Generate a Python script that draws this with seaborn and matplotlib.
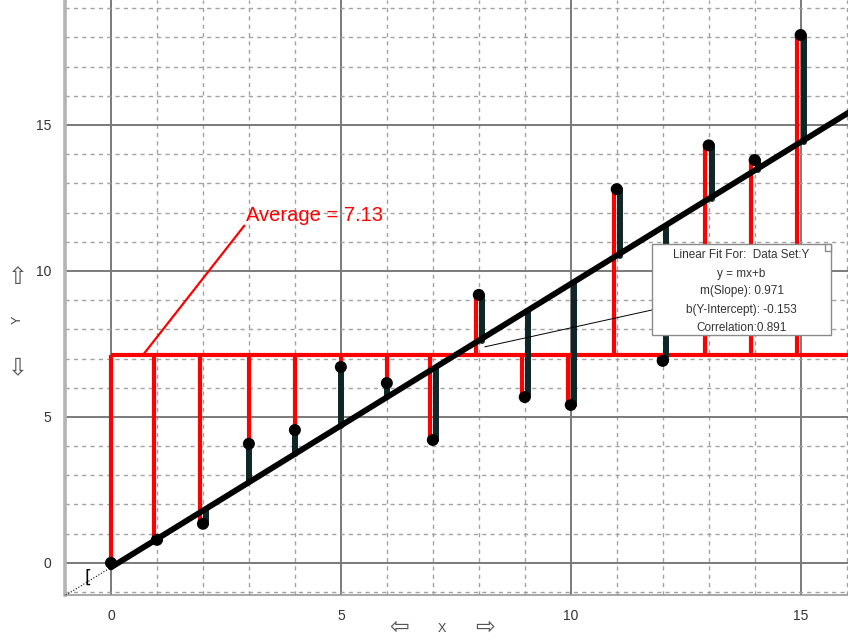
import numpy as np
import pandas as pd
import matplotlib
matplotlib.use("Agg")
import matplotlib.pyplot as plt
import seaborn as sns
from matplotlib.patches import Rectangle
from matplotlib.ticker import MultipleLocator

# ---- data ----
x_vals = list(range(16))
y_vals = [0.0, 0.79, 1.34, 4.08, 4.55, 6.71, 6.16, 4.21,
          9.18, 5.68, 5.41, 12.8, 6.92, 14.3, 13.8, 18.08]
average = 7.13
slope = 0.971
intercept = -0.153
correlation = 0.891
major_ticks = [0, 5, 10, 15]
tick_labels = ["0", "5", "10", "15"]
stats_lines = [
    "Linear Fit For:  Data Set:Y",
    "y = mx+b",
    f"m(Slope): {slope:.3f}",
    f"b(Y-Intercept): {intercept:.3f}",
    f"Correlation:{correlation:.3f}",
]

sns.set_style("white")
plt.rcParams["font.family"] = ["Liberation Sans", "DejaVu Sans"]

W, H = 848, 641
fig = plt.figure(figsize=(W / 100, H / 100), dpi=100)
ax = fig.add_axes([65 / W, 46 / H, 1 - 65 / W, 1 - 46 / H])
XMIN, XMAX = -1.0, 16.03
YMIN, YMAX = -1.1, 19.28
ax.set_xlim(XMIN, XMAX)
ax.set_ylim(YMIN, YMAX)

df = pd.DataFrame({"x": x_vals, "y": y_vals})
df["fit"] = slope * df["x"] + intercept
# where the deviation from the mean and the residual share a stretch,
# draw them side by side
overlap = (average - df["y"]) * (df["fit"] - df["y"]) > 0
shift = 0.07
df["x_red"] = np.where(overlap, df["x"] - shift, df["x"])
df["x_blk"] = np.where(overlap, df["x"] + shift, df["x"])

# ---- grid, ticks, spines ----
for axis in (ax.xaxis, ax.yaxis):
    axis.set_major_locator(MultipleLocator(5))
    axis.set_minor_locator(MultipleLocator(1))
ax.set_xticks(major_ticks, tick_labels)
ax.set_yticks(major_ticks, tick_labels)
ax.grid(which="major", color="#7a7a7a", lw=1.4, ls="-")
ax.grid(which="minor", color="#a2a2a2", lw=1.0, ls=(0, (3, 3)))
ax.set_axisbelow(True)
ax.tick_params(which="major", direction="out", length=8, width=1.4,
               color="#7a7a7a", labelsize=10, labelcolor="#333333", pad=2)
ax.tick_params(which="minor", direction="inout", length=5, width=1.6,
               color="#333333")
for s in ("top", "right"):
    ax.spines[s].set_visible(False)
ax.spines["left"].set_color("#b4b4b4")
ax.spines["left"].set_linewidth(2.6)
ax.spines["bottom"].set_color("#9a9a9a")
ax.spines["bottom"].set_linewidth(1.2)

# ---- mean line and deviations from it ----
ax.hlines(average, 0, XMAX, color="red", lw=3, zorder=3)
ax.vlines(df["x_red"], average, df["y"], color="red", lw=3, zorder=3)

# ---- residuals from the fit ----
blk = ax.vlines(df["x_blk"], df["y"], df["fit"], color="#0f2626", lw=4.3,
                zorder=4)
blk.set_capstyle("round")

# ---- fitted line ----
fit_df = pd.DataFrame({"x": [0.0, XMAX + 0.5]})
fit_df["y"] = slope * fit_df["x"] + intercept
sns.lineplot(data=fit_df, x="x", y="y", color="black", lw=4.2, ax=ax,
             zorder=5, solid_capstyle="round")
ext_df = pd.DataFrame({"x": [XMIN - 0.2, 0.0]})
ext_df["y"] = slope * ext_df["x"] + intercept
sns.lineplot(data=ext_df, x="x", y="y", color="black", lw=0.8, ls=":",
             ax=ax, zorder=5)
ax.text(-0.51, -0.52, "[", fontsize=13, ha="center", va="center",
        family="DejaVu Sans", color="black", zorder=5)

# ---- data points ----
sns.scatterplot(data=df, x="x", y="y", color="black", s=75, ax=ax,
                zorder=6, edgecolor="none", legend=False)
ax.set_xlabel("")
ax.set_ylabel("")

# ---- average callout ----
ax.plot([2.9, 0.7], [11.55, average], color="red", lw=1.6, zorder=6)
ax.text(2.93, 11.9, f"Average = {average:.2f}", color="red", fontsize=14.5,
        ha="left", va="center", zorder=7)

# ---- linear fit box ----
ax.plot([8.13, 11.76], [7.40, 8.66], color="black", lw=0.7, zorder=5)
bx0, bx1, by0, by1 = 11.76, 15.67, 7.81, 10.92
ax.add_patch(Rectangle((bx0, by0), bx1 - bx0, by1 - by0, facecolor="white",
                       edgecolor="#8a8a8a", lw=1.0, zorder=9))
ax.add_patch(Rectangle((bx1 - 0.15, by1 - 0.24), 0.15, 0.24,
                       facecolor="white", edgecolor="#8a8a8a", lw=1.0,
                       zorder=10))
line_y = [10.55, 9.90, 9.30, 8.67, 8.05]
for txt, ly in zip(stats_lines, line_y):
    ax.text((bx0 + bx1) / 2, ly, txt, fontsize=8.5, color="#333333",
            ha="center", va="center", zorder=10)

# ---- axis captions with arrows ----
arrow_kw = dict(fontsize=17, color="#555555", family="DejaVu Sans",
                ha="center", va="center")
fig.text(399 / W, 1 - 627 / H, "\u21e6", **arrow_kw)
fig.text(485 / W, 1 - 627 / H, "\u21e8", **arrow_kw)
fig.text(442 / W, 1 - 629 / H, "X", fontsize=9, color="#444444",
         ha="center", va="center")
fig.text(18 / W, 1 - 277 / H, "\u21e7", **arrow_kw)
fig.text(18 / W, 1 - 367 / H, "\u21e9", **arrow_kw)
fig.text(18 / W, 1 - 320 / H, "Y", fontsize=9, color="#444444",
         ha="center", va="center", rotation=90)

fig.savefig("out.png", dpi=100)
